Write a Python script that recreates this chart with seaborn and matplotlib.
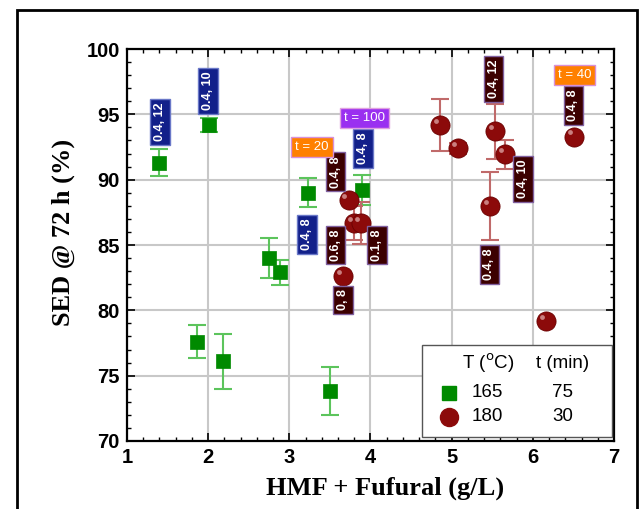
import matplotlib
matplotlib.use("Agg")
import matplotlib.pyplot as plt
import matplotlib.transforms as mtransforms
from matplotlib.patches import Rectangle
from matplotlib.ticker import MultipleLocator
import seaborn as sns
import pandas as pd

# ---- data ----
x165 = [1.39, 2.01, 1.86, 2.18, 2.75, 2.88, 3.50, 3.23, 3.90]
y165 = [91.3, 94.2, 77.6, 76.1, 84.0, 82.9, 73.8, 89.0, 89.2]
e165 = [1.05, 0.55, 1.27, 2.1, 1.55, 0.95, 1.83, 1.1, 1.15]

x180 = [3.73, 3.80, 3.88, 3.66, 4.86, 5.08, 5.53, 5.66, 5.47, 6.16, 6.51]
y180 = [88.45, 86.7, 86.7, 82.6, 94.2, 92.4, 93.7, 91.95, 88.0, 79.15, 93.3]
e180 = [0.0, 1.3, 1.6, 0.0, 1.97, 0.4, 2.1, 1.1, 2.6, 0.0, 0.0]

lab_text = ["0.4, 12", "0.4, 10", "0.4, 8", "0.4, 8",
            "0.4, 8", "0.6, 8", "0.1, 8", "0, 8",
            "0.4, 12", "0.4, 10", "0.4, 8", "0.4, 8"]
lab_x = [1.41, 2.00, 3.22, 3.91, 3.57, 3.57, 4.08, 3.66, 5.515, 5.877, 5.465, 6.50]
lab_y = [94.4, 96.8, 85.8, 92.4, 90.6, 85.0, 85.0, 80.8, 97.73, 90.05, 83.5, 95.7]
lab_kind = ["b", "b", "b", "b", "m", "m", "m", "m", "m", "m", "m", "m"]

tag_text = ["t = 20", "t = 100", "t = 40"]
tag_x = [3.28, 3.93, 6.51]
tag_y = [92.5, 94.7, 98.0]
tag_kind = ["o", "p", "o"]

x_ticks = [1, 2, 3, 4, 5, 6, 7]
y_ticks = [70, 75, 80, 85, 90, 95, 100]

# ---- styling ----
sns.set_style("ticks")
plt.rcParams['font.family'] = ['Liberation Sans', 'DejaVu Sans']
plt.rcParams['text.color'] = 'black'
plt.rcParams['axes.labelcolor'] = 'black'
plt.rcParams['xtick.color'] = 'black'
plt.rcParams['ytick.color'] = 'black'

fig = plt.figure(figsize=(6.41, 5.09), dpi=100)
ax = fig.add_axes([0.198, 0.1336, 0.760, 0.7701])

GREEN = "#008a00"
GREEN_E = "#5cc45c"
RED = "#8c0a0a"
RED_E = "#c06a6a"

ax.errorbar(x165, y165, yerr=e165, fmt="none", ecolor=GREEN_E, elinewidth=1.5,
            capsize=6.5, capthick=1.5, zorder=3)
ax.errorbar(x180, y180, yerr=e180, fmt="none", ecolor=RED_E, elinewidth=1.5,
            capsize=6.5, capthick=1.5, zorder=3)

df165 = pd.DataFrame({"x": x165, "y": y165})
df180 = pd.DataFrame({"x": x180, "y": y180})
sns.scatterplot(data=df165, x="x", y="y", ax=ax, marker="s", s=110,
                color=GREEN, edgecolor=GREEN, linewidth=0.5, zorder=4)
sns.scatterplot(data=df180, x="x", y="y", ax=ax, marker="o", s=190,
                color=RED, edgecolor="#6a0000", linewidth=0.6, zorder=4)
# sphere highlight
hl = ax.transData + mtransforms.ScaledTranslation(-3/72, 3/72, fig.dpi_scale_trans)
ax.scatter(x180, y180, s=12, color="#e0a8a8", alpha=0.75, linewidths=0,
           transform=hl, zorder=5)

box_style = {
    "b": dict(fc="#12208a", ec="#6a78c8"),
    "m": dict(fc="#3c0000", ec="#8060a0"),
    "o": dict(fc="#ff8000", ec="#d890d8"),
    "p": dict(fc="#9a30f0", ec="#e0a0e0"),
}
narrow = ['Liberation Sans Narrow', 'Liberation Sans', 'DejaVu Sans']
for t, xx, yy, k in zip(lab_text, lab_x, lab_y, lab_kind):
    st = box_style[k]
    ax.text(xx, yy, t, rotation=90, ha="center", va="center", color="white",
            fontsize=9, fontweight="bold", family=narrow,
            bbox=dict(boxstyle="square,pad=0.3", fc=st["fc"], ec=st["ec"], lw=1),
            zorder=6)
for t, xx, yy, k in zip(tag_text, tag_x, tag_y, tag_kind):
    st = box_style[k]
    ax.text(xx, yy, t, ha="center", va="center", color="white",
            fontsize=9.5, family=narrow,
            bbox=dict(boxstyle="square,pad=0.3", fc=st["fc"], ec=st["ec"], lw=1),
            zorder=6)

ax.set_xlim(1, 7)
ax.set_ylim(70, 100)
ax.set_xticks(x_ticks)
ax.set_yticks(y_ticks)
ax.xaxis.set_minor_locator(MultipleLocator(0.2))
ax.yaxis.set_minor_locator(MultipleLocator(1))
ax.tick_params(which="both", direction="in", top=True, right=True, color="black",
               labelcolor="black")
ax.tick_params(which="major", length=6, width=1.2, labelsize=14.5, pad=5)
ax.tick_params(which="minor", length=3, width=1.0)
for lbl in ax.get_xticklabels() + ax.get_yticklabels():
    lbl.set_fontweight("bold")
ax.grid(True, which="major", color="#c8c8c8", lw=1.5)
ax.set_axisbelow(True)
for sp in ax.spines.values():
    sp.set_visible(True)
    sp.set_linewidth(1.6)
    sp.set_color("black")

serif = ['Liberation Serif', 'DejaVu Serif']
ax.set_xlabel("HMF + Fufural (g/L)", fontsize=19, fontweight="bold", family=serif, color="black")
ax.set_ylabel("SED @ 72 h (%)", fontsize=19, fontweight="bold", family=serif, color="black")
ax.xaxis.set_label_coords(0.530, -0.092)
ax.yaxis.set_label_coords(-0.107, 0.533)

# legend table
ax.add_patch(Rectangle((0.606, 0.010), 0.390, 0.235, transform=ax.transAxes,
                       fc="white", ec="#555555", lw=1.0, zorder=7))
lt = dict(transform=ax.transAxes, ha="center", va="center", fontsize=13.5, zorder=8,
          color="black")
ax.text(0.742, 0.197, "T ($^{\\mathrm{o}}$C)", **lt)
ax.text(0.895, 0.197, "t (min)", **lt)
ax.text(0.740, 0.123, "165", **lt)
ax.text(0.895, 0.123, "75", **lt)
ax.text(0.740, 0.063, "180", **lt)
ax.text(0.895, 0.063, "30", **lt)
ax.plot([0.661], [0.123], marker="s", ms=10, color=GREEN, transform=ax.transAxes, zorder=8)
ax.plot([0.661], [0.060], marker="o", ms=13, color=RED, transform=ax.transAxes, zorder=8)

# outer figure frame
fig.patches.append(Rectangle((17/641, -0.05), (637-17)/641, 1.05 - 10/509,
                             transform=fig.transFigure, fill=False, ec="black", lw=2))

fig.savefig("out.png", dpi=100)
